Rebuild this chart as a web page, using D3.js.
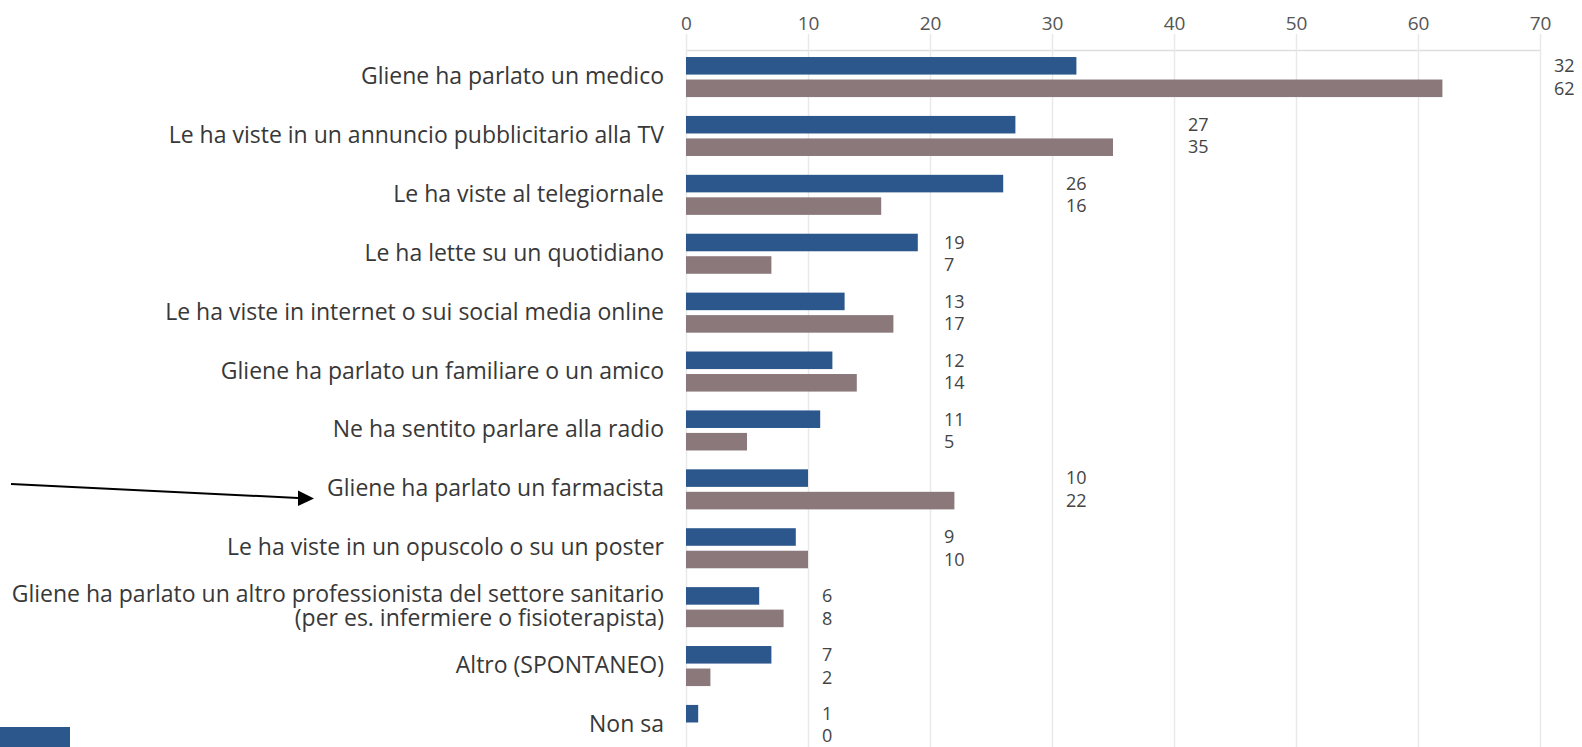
<!DOCTYPE html>
<html>
<head>
<meta charset="utf-8">
<script src="https://cdn.jsdelivr.net/npm/d3@7"></script>
<style>
  body { margin: 0; background: #fff; }
  svg { display: block; font-family: "Open Sans", sans-serif; }
</style>
</head>
<body>
<div id="chart"></div>
<script>
// Categories (two-line labels split with \n)
const categories = [
  "Gliene ha parlato un medico",
  "Le ha viste in un annuncio pubblicitario alla TV",
  "Le ha viste al telegiornale",
  "Le ha lette su un quotidiano",
  "Le ha viste in internet o sui social media online",
  "Gliene ha parlato un familiare o un amico",
  "Ne ha sentito parlare alla radio",
  "Gliene ha parlato un farmacista",
  "Le ha viste in un opuscolo o su un poster",
  "Gliene ha parlato un altro professionista del settore sanitario\n(per es. infermiere o fisioterapista)",
  "Altro (SPONTANEO)",
  "Non sa"
];
const seriesBlue = [32, 27, 26, 19, 13, 12, 11, 10, 9, 6, 7, 1];
const seriesGrey = [62, 35, 16, 7, 17, 14, 5, 22, 10, 8, 2, 0];
const tickValues = [0, 10, 20, 30, 40, 50, 60, 70];

const width = 1582, height = 747;
const colors = ["#2c578c", "#8a787b"];

const svg = d3.select("#chart").append("svg")
  .attr("width", width)
  .attr("height", height);

const x = d3.scaleLinear().domain([0, 70]).range([686, 1540]);

const y = d3.scaleBand()
  .domain(d3.range(categories.length))
  .range([47.6, 754.4])
  .paddingInner(0.32)
  .paddingOuter(0.16);

const ySub = d3.scaleBand()
  .domain([0, 1])
  .range([0, y.bandwidth()])
  .paddingInner(0.22);

// Axis + grid
const axisY = 50;
const gAxis = svg.append("g")
  .attr("transform", "translate(0," + axisY + ")")
  .call(d3.axisTop(x).tickValues(tickValues).tickSizeOuter(0).tickSizeInner(0).tickPadding(0));

gAxis.select(".domain").attr("stroke", "#dedede").attr("stroke-width", 1.5);
gAxis.selectAll(".tick line")
  .attr("y1", -16)
  .attr("y2", height - axisY)
  .attr("stroke", "#e9e9e9")
  .attr("stroke-width", 1.5);
gAxis.selectAll(".tick text")
  .attr("y", -27)
  .attr("dy", "0.35em")
  .attr("fill", "#555")
  .style("font-size", "19px")
  .style("font-family", "'Open Sans', sans-serif");

// Bars
const data = categories.map((c, i) => ({ i: i, label: c, vals: [seriesBlue[i], seriesGrey[i]] }));

const rows = svg.append("g").selectAll("g.row")
  .data(data)
  .enter().append("g")
  .attr("class", "row")
  .attr("transform", d => "translate(0," + y(d.i) + ")");

rows.selectAll("rect")
  .data(d => d.vals.map((v, k) => ({ v: v, k: k })))
  .enter().append("rect")
  .attr("x", x(0))
  .attr("y", d => ySub(d.k))
  .attr("width", d => x(d.v) - x(0))
  .attr("height", ySub.bandwidth())
  .attr("fill", d => colors[d.k]);

// Value labels, placed past the next gridline
rows.each(function(d) {
  const mx = d3.max(d.vals);
  const lx = x(Math.floor(mx / 10) * 10 + 10) + 14;
  d3.select(this).selectAll("text.val")
    .data(d.vals.map((v, k) => ({ v: v, k: k })))
    .enter().append("text")
    .attr("class", "val")
    .attr("x", lx)
    .attr("y", e => ySub(e.k) + ySub.bandwidth() / 2)
    .attr("dy", "0.35em")
    .attr("fill", "#444")
    .style("font-size", "18px")
    .text(e => e.v);
});

// Category labels
rows.each(function(d) {
  const lines = d.label.split("\n");
  const cy = y.bandwidth() / 2 - 1;
  const lh = 24;
  const t = d3.select(this).append("text")
    .attr("text-anchor", "end")
    .attr("fill", "#383838")
    .style("font-size", "23px");
  lines.forEach((ln, j) => {
    t.append("tspan")
      .attr("x", 664)
      .attr("y", cy + (j - (lines.length - 1) / 2) * lh)
      .attr("dy", "0.35em")
      .text(ln);
  });
});

// Arrow pointing to "farmacista"
svg.append("path")
  .attr("d", "M11,484 L298,498")
  .attr("stroke", "#000")
  .attr("stroke-width", 2)
  .attr("fill", "none");
svg.append("path")
  .attr("d", "M298,490.5 L314,498.5 L298,506 Z")
  .attr("fill", "#000");

// Legend swatch fragment at bottom-left
svg.append("rect")
  .attr("x", 0).attr("y", 727)
  .attr("width", 70).attr("height", 20)
  .attr("fill", colors[0]);
</script>
</body>
</html>
